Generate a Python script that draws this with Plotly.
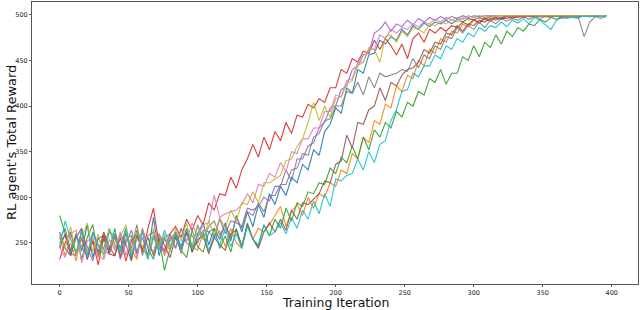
import plotly.graph_objects as go

ITER = list(range(0, 400, 4))

blue = [262, 244, 236, 260, 241, 270, 234, 255, 258, 238,
        260, 244, 266, 232, 258, 243, 238, 278, 236, 255,
        242, 262, 246, 266, 240, 260, 272, 248, 266, 254,
        272, 252, 280, 262, 284, 268, 292, 278, 304, 292,
        312, 302, 322, 316, 336, 330, 352, 346, 372, 380,
        398, 392, 420, 414, 440, 436, 456, 458, 472, 468,
        476, 472, 484, 478, 488, 484, 491, 487, 492, 490,
        494, 490, 495, 492, 496, 494, 497, 495, 498, 496,
        497, 499, 497, 499, 498, 499, 497, 499, 499, 498,
        499, 498, 499, 499, 497, 499, 499, 498, 499, 499]
orange = [258, 236, 250, 230, 266, 240, 254, 234, 260, 242,
          256, 236, 262, 242, 232, 266, 246, 240, 259, 236,
          252, 260, 238, 264, 246, 242, 261, 240, 256, 263,
          246, 266, 250, 244, 270, 254, 266, 262, 270, 280,
          290, 268, 284, 292, 280, 300, 288, 304, 300, 316,
          312, 330, 326, 348, 342, 366, 360, 384, 380, 402,
          398, 422, 416, 434, 430, 450, 444, 462, 458, 474,
          470, 482, 480, 490, 487, 494, 491, 497, 494, 497,
          495, 499, 497, 499, 497, 499, 498, 499, 499, 499,
          499, 499, 499, 499, 499, 499, 499, 499, 499, 499]
green = [280, 262, 242, 260, 232, 256, 270, 236, 254, 242,
         266, 234, 254, 258, 238, 264, 244, 232, 256, 220,
         244, 258, 242, 234, 264, 246, 240, 262, 266, 244,
         258, 240, 266, 246, 272, 254, 246, 270, 258, 276,
         266, 288, 274, 294, 290, 306, 304, 316, 314, 332,
         326, 344, 338, 356, 342, 366, 352, 374, 366, 382,
         376, 394, 388, 404, 400, 416, 412, 430, 426, 440,
         424, 436, 436, 454, 450, 466, 454, 470, 464, 478,
         468, 482, 476, 486, 482, 490, 488, 495, 492, 497,
         495, 498, 497, 499, 498, 499, 498, 499, 499, 499]
red = [232, 250, 262, 236, 256, 232, 252, 226, 258, 238,
       236, 256, 230, 252, 260, 240, 266, 288, 248, 242,
       260, 268, 256, 276, 264, 280, 270, 294, 286, 304,
       302, 322, 310, 330, 342, 358, 344, 366, 352, 372,
       362, 382, 370, 390, 388, 402, 398, 408, 404, 420,
       420, 440, 436, 452, 448, 460, 458, 472, 462, 474,
       466, 456, 468, 452, 474, 480, 470, 484, 480, 486,
       482, 488, 486, 492, 489, 495, 491, 496, 493, 497,
       495, 498, 496, 499, 497, 499, 498, 499, 498, 499,
       499, 498, 499, 499, 499, 499, 499, 499, 499, 499]
purple = [250, 258, 238, 236, 262, 246, 230, 256, 242, 238,
          258, 232, 250, 264, 240, 256, 234, 258, 246, 240,
          254, 262, 242, 260, 258, 250, 264, 262, 256, 276,
          260, 274, 272, 268, 288, 286, 290, 300, 296, 312,
          312, 330, 318, 342, 342, 356, 360, 376, 382, 398,
          400, 418, 422, 440, 444, 456, 458, 480, 484, 492,
          482, 490, 487, 494, 489, 496, 492, 497, 494, 498,
          495, 498, 496, 499, 497, 499, 498, 499, 499, 499,
          499, 499, 499, 499, 499, 499, 499, 499, 499, 499,
          499, 499, 499, 499, 499, 499, 499, 499, 499, 499]
brown = [244, 260, 236, 256, 266, 232, 252, 240, 262, 246,
         236, 260, 248, 230, 264, 242, 256, 236, 260, 246,
         234, 256, 242, 262, 240, 254, 258, 238, 256, 248,
         242, 260, 264, 246, 270, 254, 244, 262, 272, 262,
         276, 264, 286, 276, 294, 292, 298, 304, 318, 316,
         336, 340, 368, 354, 382, 380, 396, 400, 420, 406,
         426, 422, 434, 440, 442, 448, 462, 458, 470, 468,
         480, 478, 488, 482, 490, 488, 494, 492, 496, 494,
         497, 496, 498, 497, 499, 498, 499, 499, 499, 499,
         499, 499, 499, 499, 499, 499, 499, 499, 499, 499]
pink = [246, 234, 260, 264, 228, 252, 256, 236, 232, 254,
        242, 262, 236, 256, 234, 266, 244, 240, 260, 238,
        258, 244, 266, 252, 272, 256, 270, 272, 302, 278,
        282, 284, 286, 292, 304, 294, 314, 312, 326, 322,
        338, 328, 350, 348, 364, 364, 376, 376, 394, 394,
        412, 410, 428, 430, 448, 448, 464, 462, 478, 474,
        484, 480, 486, 484, 490, 487, 492, 490, 495, 492,
        497, 494, 497, 495, 499, 497, 499, 497, 499, 498,
        499, 499, 499, 499, 499, 499, 499, 499, 499, 499,
        499, 499, 499, 499, 499, 499, 499, 499, 499, 499]
gray = [254, 266, 240, 258, 246, 236, 262, 248, 244, 266,
        248, 240, 260, 244, 270, 236, 258, 262, 242, 256,
        260, 244, 266, 250, 246, 270, 254, 268, 274, 258,
        270, 256, 278, 266, 284, 280, 294, 284, 302, 302,
        314, 314, 330, 332, 348, 346, 366, 370, 384, 386,
        400, 400, 416, 414, 426, 412, 432, 420, 436, 432,
        434, 436, 440, 438, 452, 442, 456, 452, 466, 462,
        476, 474, 486, 480, 488, 484, 492, 486, 494, 490,
        496, 493, 496, 494, 498, 495, 498, 496, 498, 497,
        499, 496, 498, 497, 496, 476, 492, 498, 496, 498]
olive = [260, 244, 268, 236, 254, 272, 240, 260, 234, 266,
         244, 258, 270, 238, 262, 246, 232, 266, 244, 260,
         240, 266, 252, 272, 246, 268, 254, 274, 258, 278,
         266, 286, 274, 294, 292, 306, 294, 316, 316, 320,
         324, 340, 342, 356, 364, 382, 404, 384, 400, 388,
         408, 410, 424, 428, 444, 448, 462, 462, 448, 476,
         478, 470, 482, 476, 486, 484, 480, 490, 488, 492,
         490, 495, 492, 497, 494, 497, 496, 499, 497, 499,
         499, 499, 499, 499, 499, 499, 499, 499, 499, 499,
         499, 499, 499, 499, 499, 499, 499, 499, 499, 499]
cyan = [246, 274, 254, 240, 264, 234, 260, 246, 238, 262,
        258, 242, 266, 236, 254, 262, 232, 256, 242, 264,
        246, 260, 240, 266, 244, 258, 262, 242, 260, 248,
        266, 246, 260, 244, 268, 254, 248, 270, 258, 262,
        272, 260, 278, 266, 286, 276, 296, 282, 304, 290,
        320, 318, 324, 326, 342, 330, 350, 338, 358, 362,
        384, 396, 416, 418, 436, 432, 444, 444, 456, 452,
        466, 462, 474, 470, 480, 476, 486, 482, 488, 486,
        492, 487, 494, 491, 496, 490, 497, 494, 489, 484,
        494, 497, 496, 498, 497, 499, 498, 499, 498, 499]

SERIES = [blue, orange, green, red, purple, brown, pink, gray, olive, cyan]
COLORS = ["#1f77b4", "#ff7f0e", "#2ca02c", "#d62728", "#9467bd",
          "#8c564b", "#e377c2", "#7f7f7f", "#bcbd22", "#17becf"]

X_TICKS = [0, 50, 100, 150, 200, 250, 300, 350, 400]
Y_TICKS = [250, 300, 350, 400, 450, 500]
X_TITLE = "Training Iteration"
Y_TITLE = "RL agent's Total Reward"

fig = go.Figure()
for vals, col in zip(SERIES, COLORS):
    fig.add_trace(go.Scatter(x=ITER, y=vals, mode="lines",
                             line=dict(color=col, width=1.1), opacity=0.9,
                             showlegend=False))

axis_common = dict(showline=True, linecolor="#555555", linewidth=1, mirror=True,
                   showgrid=False, zeroline=False, ticks="outside", ticklen=2,
                   tickcolor="#555555", automargin=False,
                   tickfont=dict(family="DejaVu Sans", size=6.5, color="#222"))
fig.update_xaxes(range=[-20, 419], tickvals=X_TICKS, **axis_common)
fig.update_yaxes(range=[205, 514], tickvals=Y_TICKS, **axis_common)
fig.add_annotation(text=X_TITLE, xref="paper", yref="paper", x=0.5, y=0,
                   xanchor="center", yanchor="top", yshift=-9.5, showarrow=False,
                   borderpad=0,
                   font=dict(family="DejaVu Sans", size=12.5, color="#111"))
fig.add_annotation(text=Y_TITLE, xref="paper", yref="paper", x=0, y=0.5,
                   xanchor="center", yanchor="middle", xshift=-21, textangle=-90,
                   showarrow=False,
                   font=dict(family="DejaVu Sans", size=13, color="#111"))
fig.update_layout(width=640, height=310, margin=dict(l=32, r=2, t=2, b=26),
                  paper_bgcolor="white", plot_bgcolor="white")
fig.write_html("out.html", config={"displayModeBar": False})

with open("out.html", "r", encoding="utf-8") as f:
    html = f.read()
html = html.replace("<head>", "<head><style>html,body{margin:0;padding:0;overflow:hidden;}</style>", 1)
with open("out.html", "w", encoding="utf-8") as f:
    f.write(html)
